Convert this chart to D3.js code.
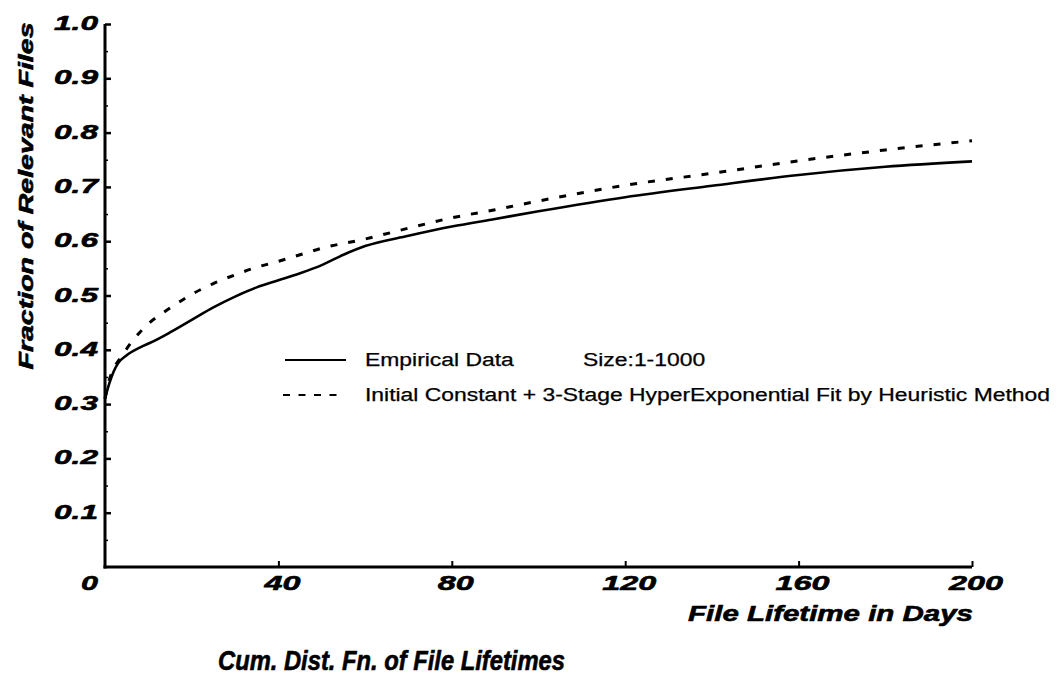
<!DOCTYPE html>
<html>
<head>
<meta charset="utf-8">
<script src="https://cdn.jsdelivr.net/npm/d3@7"></script>
<style>
  html, body { margin: 0; padding: 0; background: #fff; }
  svg { display: block; }
  text { font-family: "Liberation Sans", Arial, Helvetica, sans-serif; fill: #000; }
</style>
</head>
<body>
<svg id="chart" width="1064" height="677"></svg>
<script>
// ---- data ----
const empiricalDays  = [0, 1, 2, 3, 5, 8, 11, 15, 20, 25, 30, 35, 40, 45, 50, 55, 60, 70, 80, 90, 100, 120, 140, 160, 180, 200];
const empiricalFrac  = [0.31, 0.338, 0.36, 0.375, 0.39, 0.404, 0.415, 0.432, 0.455, 0.478, 0.498, 0.515, 0.528, 0.541, 0.556, 0.575, 0.591, 0.61, 0.627, 0.641, 0.655, 0.681, 0.702, 0.722, 0.737, 0.747];
const fitDays        = [0, 1, 2, 4, 6, 8, 10, 13, 16, 20, 25, 30, 35, 40, 45, 50, 60, 70, 80, 90, 100, 120, 140, 160, 180, 200];
const fitFrac        = [0.31, 0.345, 0.365, 0.39, 0.413, 0.432, 0.448, 0.466, 0.482, 0.502, 0.522, 0.538, 0.552, 0.563, 0.575, 0.587, 0.604, 0.624, 0.643, 0.658, 0.674, 0.703, 0.725, 0.748, 0.768, 0.785];
const xTickValues    = [40, 80, 120, 160, 200];
const xTickLabels    = ["40", "80", "120", "160", "200"];
const yTickValues    = [0.1, 0.2, 0.3, 0.4, 0.5, 0.6, 0.7, 0.8, 0.9, 1.0];
const yTickLabels    = ["0.1", "0.2", "0.3", "0.4", "0.5", "0.6", "0.7", "0.8", "0.9", "1.0"];
const yMinorValues   = [0.05, 0.15, 0.25, 0.35, 0.45, 0.55, 0.65, 0.75, 0.85, 0.95];
const originLabel    = "0";
const seriesNames    = ["Empirical Data", "Initial Constant + 3-Stage HyperExponential Fit by Heuristic Method"];
const sizeNote       = "Size:1-1000";
const xTitle         = "File Lifetime in Days";
const yTitle         = "Fraction of Relevant Files";
const chartTitle     = "Cum. Dist. Fn. of File Lifetimes";

// ---- layout ----
const svg = d3.select("#chart");
const x = d3.scaleLinear().domain([0, 200]).range([105, 972]);
const y = d3.scaleLinear().domain([0, 1]).range([567, 24]);

const bi = sel => sel.attr("font-weight", "bold").attr("font-style", "italic")
  .attr("stroke", "#000").attr("stroke-width", 0.6).attr("stroke-linejoin", "round");

// axes lines
svg.append("line").attr("x1", x(0)).attr("x2", x(0)).attr("y1", y(0) + 1.5).attr("y2", y(1))
  .attr("stroke", "#000").attr("stroke-width", 3);
svg.append("line").attr("x1", x(0) - 1.5).attr("x2", x(200)).attr("y1", y(0)).attr("y2", y(0))
  .attr("stroke", "#000").attr("stroke-width", 3);

// y axis (ticks inward, to the right)
const yAxis = d3.axisRight(y).tickValues(yTickValues).tickSize(6).tickFormat("");
const gy = svg.append("g").attr("transform", `translate(${x(0)},0)`).call(yAxis);
gy.select(".domain").remove();
gy.selectAll(".tick line").attr("stroke", "#000").attr("stroke-width", 2.5);

const yMinor = d3.axisRight(y).tickValues(yMinorValues).tickSize(3).tickFormat("");
const gym = svg.append("g").attr("transform", `translate(${x(0)},0)`).call(yMinor);
gym.select(".domain").remove();
gym.selectAll(".tick line").attr("stroke", "#000").attr("stroke-width", 1.5);

// x axis (ticks inward, upward)
const xAxis = d3.axisTop(x).tickValues(xTickValues).tickSize(6).tickFormat("");
const gx = svg.append("g").attr("transform", `translate(0,${y(0)})`).call(xAxis);
gx.select(".domain").remove();
gx.selectAll(".tick line").attr("stroke", "#000").attr("stroke-width", 2);

// y tick labels
svg.append("g").selectAll("text").data(yTickValues).join("text")
  .attr("x", 98).attr("y", d => y(d) + 6)
  .attr("text-anchor", "end").attr("font-size", 21)
  .attr("textLength", 44).attr("lengthAdjust", "spacingAndGlyphs")
  .text((d, i) => yTickLabels[i]).call(bi);

// x tick labels
svg.append("g").selectAll("text").data(xTickValues).join("text")
  .attr("x", d => x(d) + 4).attr("y", 590)
  .attr("text-anchor", "middle").attr("font-size", 21)
  .attr("textLength", (d, i) => xTickLabels[i].length * 18)
  .attr("lengthAdjust", "spacingAndGlyphs")
  .text((d, i) => xTickLabels[i]).call(bi);

// origin label
svg.append("text").attr("x", x(0) - 15.5).attr("y", 590).attr("text-anchor", "middle")
  .attr("font-size", 21).attr("textLength", 17).attr("lengthAdjust", "spacingAndGlyphs")
  .text(originLabel).call(bi);

// axis titles
svg.append("text").attr("x", 688).attr("y", 621).attr("font-size", 22)
  .attr("textLength", 285).attr("lengthAdjust", "spacingAndGlyphs")
  .text(xTitle).call(bi);

svg.append("text").attr("transform", "translate(33,196) rotate(-90)")
  .attr("text-anchor", "middle").attr("font-size", 21)
  .attr("textLength", 347).attr("lengthAdjust", "spacingAndGlyphs")
  .text(yTitle).call(bi);

// chart title
svg.append("text").attr("x", 218).attr("y", 670).attr("font-size", 27)
  .attr("textLength", 347).attr("lengthAdjust", "spacingAndGlyphs")
  .text(chartTitle).call(bi);

// curves
const line = d3.line().x(d => x(d[0])).y(d => y(d[1])).curve(d3.curveMonotoneX);
svg.append("path").datum(empiricalDays.map((d, i) => [d, empiricalFrac[i]]))
  .attr("d", line).attr("fill", "none").attr("stroke", "#000").attr("stroke-width", 2.6)
  .attr("stroke-linejoin", "round");
svg.append("path").datum(fitDays.map((d, i) => [d, fitFrac[i]]))
  .attr("d", line).attr("fill", "none").attr("stroke", "#000").attr("stroke-width", 3)
  .attr("stroke-dasharray", "7,11");

// legend
const lg = svg.append("g");
lg.append("line").attr("x1", 285).attr("x2", 346).attr("y1", 360).attr("y2", 360)
  .attr("stroke", "#000").attr("stroke-width", 2.2);
lg.append("line").attr("x1", 283).attr("x2", 345).attr("y1", 395).attr("y2", 395)
  .attr("stroke", "#000").attr("stroke-width", 2.2).attr("stroke-dasharray", "7,8.5");
const legendStyle = sel => sel.attr("font-size", 18).attr("stroke", "#000").attr("stroke-width", 0.25);
const t2 = lg.append("text").attr("x", 365).attr("y", 401).call(legendStyle).text(seriesNames[1]);
const f = 685 / t2.node().getComputedTextLength();
t2.attr("textLength", 685).attr("lengthAdjust", "spacingAndGlyphs");
const t1 = lg.append("text").attr("x", 365).attr("y", 366).call(legendStyle).text(seriesNames[0]);
t1.attr("textLength", t1.node().getComputedTextLength() * f).attr("lengthAdjust", "spacingAndGlyphs");
const t3 = lg.append("text").attr("x", 583).attr("y", 366).call(legendStyle).text(sizeNote);
t3.attr("textLength", t3.node().getComputedTextLength() * f).attr("lengthAdjust", "spacingAndGlyphs");
</script>
</body>
</html>
